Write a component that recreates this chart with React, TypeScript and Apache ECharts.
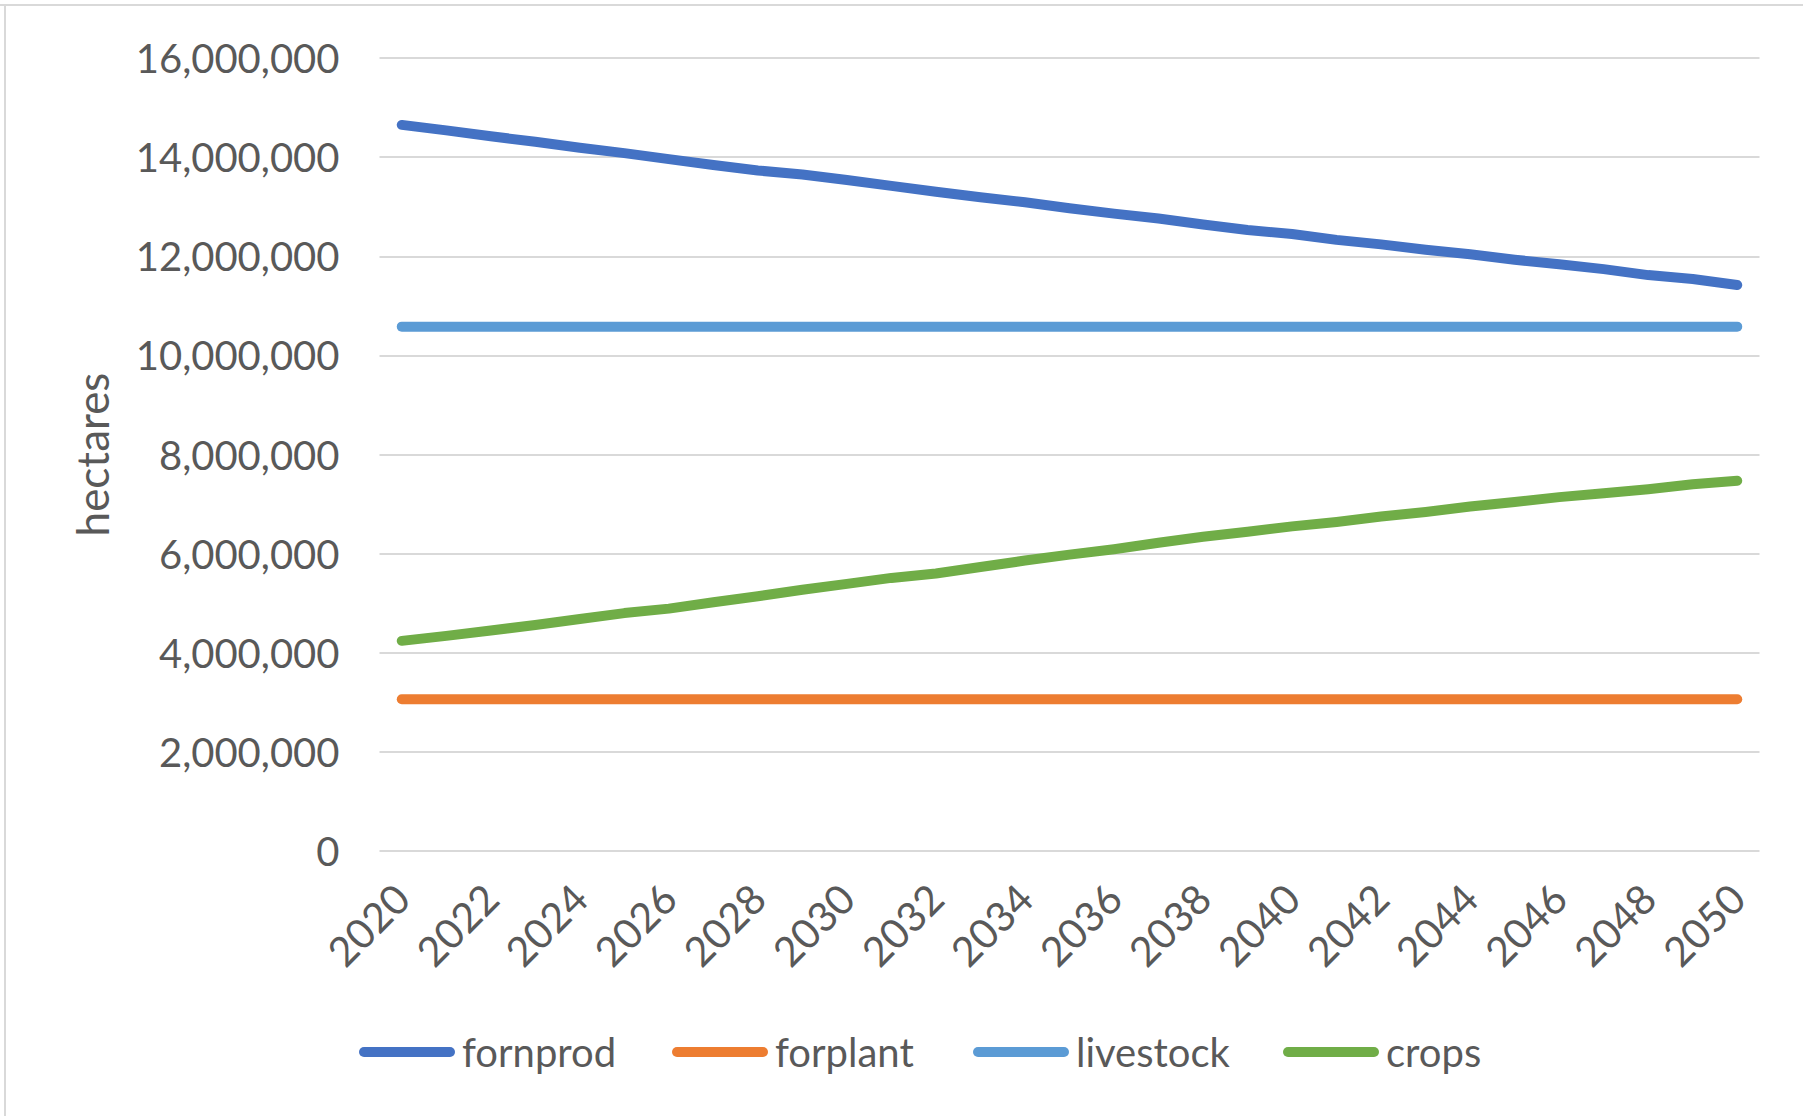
import React, { useEffect, useRef } from "react";
import * as echarts from "echarts";

const years = [
  "2020", "2021", "2022", "2023", "2024", "2025", "2026", "2027", "2028", "2029",
  "2030", "2031", "2032", "2033", "2034", "2035", "2036", "2037", "2038", "2039",
  "2040", "2041", "2042", "2043", "2044", "2045", "2046", "2047", "2048", "2049",
  "2050",
];

const fornprod = [
  14650000, 14540000, 14420000, 14310000, 14190000, 14080000, 13960000, 13840000,
  13730000, 13650000, 13540000, 13420000, 13300000, 13190000, 13090000, 12970000,
  12860000, 12760000, 12640000, 12530000, 12450000, 12330000, 12240000, 12130000,
  12040000, 11930000, 11840000, 11740000, 11620000, 11540000, 11420000,
];

const forplant = [
  3060000, 3060000, 3060000, 3060000, 3060000, 3060000, 3060000, 3060000,
  3060000, 3060000, 3060000, 3060000, 3060000, 3060000, 3060000, 3060000,
  3060000, 3060000, 3060000, 3060000, 3060000, 3060000, 3060000, 3060000,
  3060000, 3060000, 3060000, 3060000, 3060000, 3060000, 3060000,
];

const livestock = [
  10580000, 10580000, 10580000, 10580000, 10580000, 10580000, 10580000, 10580000,
  10580000, 10580000, 10580000, 10580000, 10580000, 10580000, 10580000, 10580000,
  10580000, 10580000, 10580000, 10580000, 10580000, 10580000, 10580000, 10580000,
  10580000, 10580000, 10580000, 10580000, 10580000, 10580000, 10580000,
];

const crops = [
  4240000, 4340000, 4450000, 4560000, 4680000, 4800000, 4890000, 5020000,
  5140000, 5270000, 5390000, 5510000, 5600000, 5730000, 5860000, 5980000,
  6090000, 6220000, 6340000, 6440000, 6550000, 6640000, 6750000, 6840000,
  6950000, 7040000, 7140000, 7220000, 7300000, 7400000, 7470000,
];

const seriesNames = ["fornprod", "forplant", "livestock", "crops"];
const seriesColors = ["#4472C4", "#ED7D31", "#5B9BD5", "#70AD47"];
const seriesData = [fornprod, forplant, livestock, crops];
const legendLefts = [359, 672, 973, 1283];

const FONT = "Lato, 'Open Sans', sans-serif";
const TEXT = "#595959";
const GRID = "#d9d9d9";

// rounded bar used as the legend key
const capsule = "path://M5,0 L91,0 A5,5 0 0 1 91,10 L5,10 A5,5 0 0 1 5,0 Z";

export default function App() {
  const ref = useRef<HTMLDivElement>(null);

  useEffect(() => {
    if (!ref.current) return;
    const chart = echarts.init(ref.current, null, { renderer: "svg" });
    chart.setOption({
      animation: false,
      backgroundColor: "#ffffff",
      textStyle: { fontFamily: FONT },
      grid: { left: 379.5, right: 43.5, top: 58, bottom: 265, containLabel: false },
      graphic: [
        { type: "line", shape: { x1: 0, y1: 5, x2: 1803, y2: 5 }, style: { stroke: GRID, lineWidth: 2 } },
        { type: "line", shape: { x1: 5, y1: 5, x2: 5, y2: 1116 }, style: { stroke: GRID, lineWidth: 2 } },
      ],
      legend: seriesNames.map((n, i) => ({
        data: [{ name: n, icon: capsule }],
        left: legendLefts[i],
        top: 1032,
        itemWidth: 96,
        itemHeight: 10,
        itemGap: 0,
        padding: 0,
        textStyle: { color: TEXT, fontSize: 40, fontFamily: FONT, padding: [0, 0, 0, 2] },
      })),
      xAxis: {
        type: "category",
        data: years,
        boundaryGap: true,
        axisLine: { show: false },
        axisTick: { show: false },
        axisLabel: {
          interval: 1,
          rotate: 45,
          margin: 40,
          color: TEXT,
          fontSize: 41,
          fontFamily: FONT,
        },
        splitLine: { show: false },
      },
      yAxis: {
        type: "value",
        min: 0,
        max: 16000000,
        interval: 2000000,
        name: "hectares",
        nameLocation: "middle",
        nameGap: 266,
        nameTextStyle: { color: TEXT, fontSize: 44, fontFamily: FONT },
        axisLine: { show: false },
        axisTick: { show: false },
        axisLabel: {
          margin: 40,
          color: TEXT,
          fontSize: 40,
          fontFamily: FONT,
          formatter: (v: number) => v.toLocaleString("en-US"),
        },
        splitLine: { lineStyle: { color: GRID, width: 2 } },
      },
      series: seriesNames.map((n, i) => ({
        name: n,
        type: "line",
        data: seriesData[i],
        showSymbol: false,
        symbol: "none",
        color: seriesColors[i],
        lineStyle: { color: seriesColors[i], width: 10, cap: "round", join: "round" },
      })),
    });
    return () => chart.dispose();
  }, []);

  return (
    <div
      ref={ref}
      style={{ position: "absolute", left: 0, top: 0, width: 1803, height: 1116, background: "#fff" }}
    />
  );
}
